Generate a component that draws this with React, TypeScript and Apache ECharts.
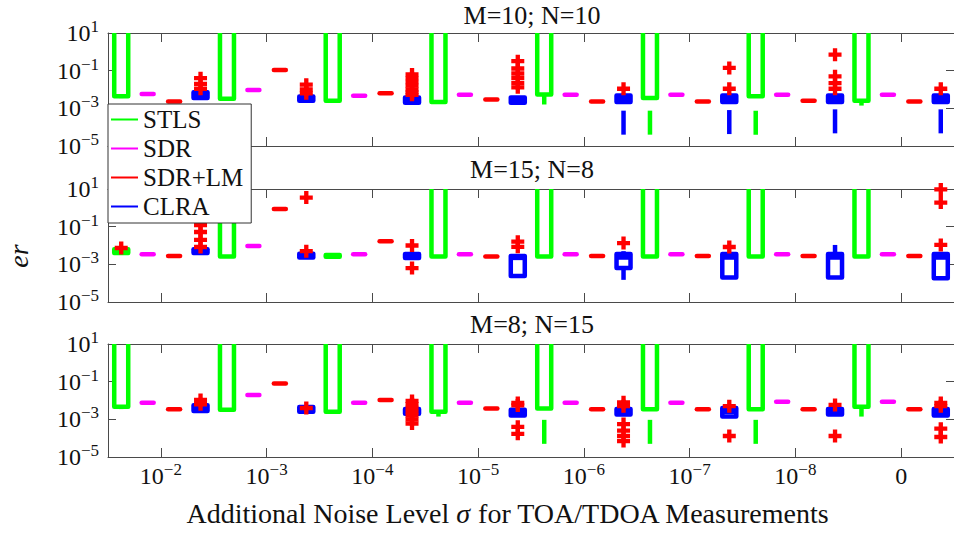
import React, { useEffect, useRef } from 'react';
import * as echarts from 'echarts';

const FONT = 'Liberation Serif, DejaVu Serif, serif';

const methods = ['STLS', 'SDR', 'SDR+LM', 'CLRA'];
const methodColors = ['#00ff00', '#ff00ff', '#ff0000', '#0000ff'];
const panelTitles = ['M=10; N=10', 'M=15; N=8', 'M=8; N=15'];
// noise levels: 10^-2 ... 10^-8, then 0
const noiseExponents: (number | null)[] = [-2, -3, -4, -5, -6, -7, -8, null];

// ---- Panel 1 : M=10; N=10  ([min, Q1, median, Q3, max] per noise level)
const p1Stls = [
  [3.5e-3, 4.4e-3, 50, 500, 5000],
  [3.2e-3, 3.2e-3, 50, 500, 5000],
  [2.5e-3, 2.5e-3, 50, 500, 5000],
  [2.0e-3, 2.2e-3, 50, 500, 5000],
  [1.6e-3, 5.4e-3, 50, 500, 5000],
  [4.0e-5, 3.5e-3, 50, 500, 5000],
  [4.0e-5, 4.4e-3, 50, 500, 5000],
  [1.4e-3, 2.5e-3, 50, 500, 5000],
];
const p1Sdr = [5.8e-3, 9.3e-3, 4.7e-3, 5.2e-3, 5.2e-3, 5.2e-3, 5.2e-3, 5.2e-3];
const p1SdrLm = [2.3e-3, 0.11, 6.3e-3, 2.9e-3, 2.3e-3, 2.3e-3, 2.5e-3, 2.3e-3];
const p1Clra = [
  [3.2e-3, 3.5e-3, 5.0e-3, 7.1e-3, 8.0e-3],
  [2.2e-3, 2.5e-3, 3.2e-3, 4.2e-3, 5.0e-3],
  [1.8e-3, 2.0e-3, 2.8e-3, 3.8e-3, 4.5e-3],
  [1.8e-3, 2.0e-3, 2.6e-3, 3.8e-3, 4.5e-3],
  [4.0e-5, 2.2e-3, 3.2e-3, 4.8e-3, 6.0e-3],
  [4.3e-5, 2.2e-3, 3.2e-3, 4.8e-3, 6.0e-3],
  [4.7e-5, 2.2e-3, 3.2e-3, 4.8e-3, 6.0e-3],
  [4.7e-5, 2.2e-3, 3.2e-3, 4.8e-3, 6.0e-3],
];
const p1StlsOut: number[][] = [[], [], [], [], [], [], [], []];
const p1ClraOut = [
  [0.04, 0.02, 0.011],
  [0.018, 0.01, 6.3e-3],
  [0.063, 0.04, 0.025, 0.016, 0.01, 7e-3, 5.2e-3],
  [0.32, 0.13, 0.071, 0.04, 0.022, 0.013],
  [0.011],
  [0.14, 0.011],
  [0.71, 0.05, 0.022, 0.011],
  [0.011],
];

// ---- Panel 2 : M=15; N=8
const p2Stls = [
  [3.8e-3, 4.0e-3, 5.0e-3, 6.3e-3, 6.3e-3],
  [2.6e-3, 2.6e-3, 50, 500, 5000],
  [2.5e-3, 2.5e-3, 2.8e-3, 3.1e-3, 3.1e-3],
  [2.6e-3, 2.6e-3, 50, 500, 5000],
  [2.6e-3, 2.6e-3, 50, 500, 5000],
  [2.6e-3, 2.6e-3, 50, 500, 5000],
  [2.6e-3, 2.6e-3, 50, 500, 5000],
  [2.6e-3, 2.6e-3, 50, 500, 5000],
];
const p2Sdr = [3.4e-3, 9.3e-3, 3.4e-3, 3.4e-3, 3.4e-3, 3.4e-3, 3.4e-3, 3.4e-3];
const p2SdrLm = [2.75e-3, 0.87, 0.017, 2.6e-3, 2.8e-3, 2.75e-3, 2.75e-3, 2.75e-3];
const p2Clra = [
  [3.6e-3, 4.0e-3, 5.0e-3, 6.3e-3, 7.0e-3],
  [2.1e-3, 2.3e-3, 2.9e-3, 3.7e-3, 4.0e-3],
  [2.0e-3, 2.2e-3, 2.8e-3, 3.5e-3, 3.8e-3],
  [2.3e-4, 2.4e-4, 2.2e-3, 2.75e-3, 2.9e-3],
  [1.5e-4, 6.3e-4, 2.3e-3, 3.5e-3, 5.0e-3],
  [2.0e-4, 2.0e-4, 2.3e-3, 3.5e-3, 3.6e-3],
  [2.0e-4, 2.0e-4, 2.3e-3, 3.5e-3, 1.07e-2],
  [1.8e-4, 1.8e-4, 2.3e-3, 3.5e-3, 3.6e-3],
];
const p2StlsOut = [[7.4e-3], [], [], [], [], [], [], []];
const p2ClraOut = [
  [0.12, 0.052, 0.02, 8.3e-3],
  [3.5, 5.0e-3],
  [0.01, 6.3e-4],
  [0.016, 8.5e-3],
  [0.0135],
  [8.3e-3],
  [],
  [9.5, 1.9, 0.0107],
];

// ---- Panel 3 : M=8; N=15
const p3Stls = [
  [3.5e-3, 4.7e-3, 50, 500, 5000],
  [3.2e-3, 3.2e-3, 50, 500, 5000],
  [2.5e-3, 2.5e-3, 50, 500, 5000],
  [1.4e-3, 2.5e-3, 50, 500, 5000],
  [5.0e-5, 3.8e-3, 50, 500, 5000],
  [5.0e-5, 3.4e-3, 50, 500, 5000],
  [5.0e-5, 3.4e-3, 50, 500, 5000],
  [1.4e-3, 4.7e-3, 50, 500, 5000],
];
const p3Sdr = [7.6e-3, 0.0195, 7.6e-3, 7.6e-3, 7.6e-3, 7.6e-3, 8.7e-3, 8.7e-3];
const p3SdrLm = [3.4e-3, 0.081, 0.0107, 3.8e-3, 3.4e-3, 3.4e-3, 3.4e-3, 3.4e-3];
const p3Clra = [
  [2.6e-3, 2.8e-3, 4.0e-3, 5.6e-3, 6.0e-3],
  [2.3e-3, 2.5e-3, 3.4e-3, 4.5e-3, 4.8e-3],
  [1.8e-3, 2.0e-3, 2.8e-3, 3.5e-3, 3.8e-3],
  [1.5e-3, 1.6e-3, 2.2e-3, 3.2e-3, 3.4e-3],
  [1.6e-3, 1.8e-3, 2.5e-3, 3.5e-3, 3.8e-3],
  [1.3e-3, 1.4e-3, 2.5e-3, 4.0e-3, 4.2e-3],
  [1.6e-3, 1.8e-3, 2.5e-3, 3.5e-3, 3.8e-3],
  [1.5e-3, 1.6e-3, 2.5e-3, 3.5e-3, 3.8e-3],
];
const p3StlsOut: number[][] = [[], [], [], [], [], [], [], []];
const p3ClraOut = [
  [0.0107, 6.3e-3],
  [4.0e-3],
  [9.5e-3, 6.3e-3, 4.0e-3, 2.5e-3, 1.6e-3, 1.0e-3, 6.0e-4],
  [7.4e-3, 5.5e-3, 4.0e-4, 1.7e-4],
  [8.0e-3, 5.0e-3, 5.6e-4, 2.5e-4, 1.3e-4, 7.0e-5],
  [5.0e-3, 1.3e-4],
  [5.8e-3, 1.3e-4],
  [7.4e-3, 5.0e-3, 3.2e-4, 1.15e-4],
];

const gridTops = [33, 189, 344];
const GRID_LEFT = 108;
const GRID_WIDTH = 848;
const GRID_HEIGHT = 113;

const PLUS = 'path://M4,0L8,0L8,4L12,4L12,8L8,8L8,12L4,12L4,8L0,8L0,4L4,4Z';
const AXIS_COLOR = '#4a4a4a';
const TEXT_COLOR = '#111111';
const LW = 4.5;
const HALF_W = 7;

const xTickPos = noiseExponents.map((_, g) => 4 * g + 2.5);

const supRich = {
  b: { fontFamily: FONT, fontSize: 24, lineHeight: 24, verticalAlign: 'bottom', color: TEXT_COLOR },
  s: { fontFamily: FONT, fontSize: 17, lineHeight: 17, padding: [0, 0, 10, 0], verticalAlign: 'bottom', color: TEXT_COLOR },
  z: { fontFamily: FONT, fontSize: 24, lineHeight: 24, padding: [3, 0, 0, 0], verticalAlign: 'bottom', color: TEXT_COLOR },
};

const expStr = (e: number) => (e < 0 ? '\u2212' + Math.abs(e) : String(e));

function makeRenderer(color: string) {
  return (params: any, api: any) => {
    const x = api.value(0);
    const v = [1, 2, 3, 4, 5].map((i) => api.value(i));
    const px = v.map((val) => api.coord([x, val]));
    const cx = px[0][0];
    const [mn, q1, md, q3, mx] = px.map((p: number[]) => p[1]);
    const st = { stroke: color, lineWidth: LW, fill: 'none' };
    const children: any[] = [];
    if (mn - q1 > 0.5) {
      children.push({ type: 'line', shape: { x1: cx, y1: mn, x2: cx, y2: q1 }, style: { ...st, lineDash: [24, 14] } });
    }
    if (q3 - mx > 0.5) {
      children.push({ type: 'line', shape: { x1: cx, y1: mx, x2: cx, y2: q3 }, style: { ...st, lineDash: [24, 14] } });
    }
    if (q1 - q3 > 1) {
      children.push({
        type: 'rect',
        shape: { x: cx - HALF_W, y: q3, width: 2 * HALF_W, height: q1 - q3 },
        style: { ...st, lineJoin: 'round' },
      });
      children.push({
        type: 'line',
        shape: { x1: cx - HALF_W, y1: md, x2: cx + HALF_W, y2: md },
        style: { ...st },
      });
    } else {
      const yy = (q1 + q3) / 2;
      children.push({
        type: 'line',
        shape: { x1: cx - HALF_W + 1, y1: yy, x2: cx + HALF_W - 1, y2: yy },
        style: { ...st, lineCap: 'round' },
      });
    }
    return { type: 'group', children };
  };
}

export default function App() {
  const ref = useRef<HTMLDivElement>(null);

  useEffect(() => {
    if (!ref.current) return;
    const chart = echarts.init(ref.current, null, { renderer: 'svg' });

    const panels = [
      { boxes: [p1Stls, p1Sdr, p1SdrLm, p1Clra], outs: [p1StlsOut, p1ClraOut] },
      { boxes: [p2Stls, p2Sdr, p2SdrLm, p2Clra], outs: [p2StlsOut, p2ClraOut] },
      { boxes: [p3Stls, p3Sdr, p3SdrLm, p3Clra], outs: [p3StlsOut, p3ClraOut] },
    ];

    const grid: any[] = [];
    const xAxis: any[] = [];
    const yAxis: any[] = [];
    const series: any[] = [];

    panels.forEach((panel, p) => {
      grid.push({ left: GRID_LEFT, top: gridTops[p], width: GRID_WIDTH, height: GRID_HEIGHT });
      const isBottom = p === panels.length - 1;
      const xBase = {
        type: 'value',
        gridIndex: p,
        min: 0.5,
        max: 32.5,
        splitLine: { show: false },
        axisLine: { show: true, onZero: false, lineStyle: { color: AXIS_COLOR, width: 1 } },
        axisTick: { show: true, inside: true, length: 9, customValues: xTickPos, lineStyle: { color: AXIS_COLOR, width: 1 } },
      };
      xAxis.push({
        ...xBase,
        position: 'bottom',
        axisLabel: {
          show: isBottom,
          customValues: xTickPos,
          margin: 7,
          rich: supRich,
          formatter: (val: number) => {
            const g = Math.round((val - 2.5) / 4);
            const e = noiseExponents[g];
            return e === null || e === undefined ? '{z|0}' : '{b|10}{s|' + expStr(e) + '}';
          },
        },
      });
      xAxis.push({ ...xBase, position: 'top', axisLabel: { show: false } });

      const yBase = {
        type: 'log',
        logBase: 10,
        gridIndex: p,
        min: 1e-5,
        max: 10,
        interval: 2,
        splitLine: { show: false },
        minorTick: { show: false },
        axisLine: { show: true, onZero: false, lineStyle: { color: AXIS_COLOR, width: 1 } },
        axisTick: { show: true, inside: true, length: 8, lineStyle: { color: AXIS_COLOR, width: 1 } },
      };
      yAxis.push({
        ...yBase,
        position: 'left',
        axisLabel: {
          show: true,
          margin: 9,
          rich: supRich,
          formatter: (val: number) => '{b|10}{s|' + expStr(Math.round(Math.log10(val))) + '}',
        },
      });
      yAxis.push({ ...yBase, position: 'right', axisLabel: { show: false } });

      panel.boxes.forEach((arr: any[], m: number) => {
        const data = arr.map((item: any, g: number) => {
          const five = Array.isArray(item) ? item : [item, item, item, item, item];
          return [4 * g + m + 1, ...five];
        });
        series.push({
          type: 'custom',
          name: methods[m],
          xAxisIndex: 2 * p,
          yAxisIndex: 2 * p,
          clip: true,
          z: 2,
          itemStyle: { color: methodColors[m] },
          encode: { x: 0, y: [1, 2, 3, 4, 5] },
          renderItem: makeRenderer(methodColors[m]),
          data,
          silent: true,
        });
      });

      const outData: number[][] = [];
      const [stlsOut, clraOut] = panel.outs;
      stlsOut.forEach((vals, g) => vals.forEach((v) => outData.push([4 * g + 1, v])));
      clraOut.forEach((vals, g) => vals.forEach((v) => outData.push([4 * g + 4, v])));
      series.push({
        type: 'scatter',
        name: 'outliers',
        xAxisIndex: 2 * p,
        yAxisIndex: 2 * p,
        symbol: PLUS,
        symbolSize: 13,
        z: 3,
        silent: true,
        itemStyle: { color: '#ff0000', opacity: 1 },
        data: outData,
      });
    });

    const titleY = [15, 169, 324];
    const graphic: any[] = panelTitles.map((t, i) => ({
      type: 'text',
      x: 532,
      y: titleY[i],
      z: 50,
      style: {
        text: t,
        fontFamily: FONT,
        fontSize: 26,
        fill: TEXT_COLOR,
        align: 'center',
        verticalAlign: 'middle',
      },
    }));
    graphic.push({
      type: 'text',
      x: 508,
      y: 513,
      z: 50,
      style: {
        text: 'Additional Noise Level {i|\u03c3} for TOA/TDOA Measurements',
        fontFamily: FONT,
        fontSize: 28,
        fill: TEXT_COLOR,
        align: 'center',
        verticalAlign: 'middle',
        rich: { i: { fontFamily: FONT, fontSize: 28, fontStyle: 'italic', fill: TEXT_COLOR } },
      },
    });
    graphic.push({
      type: 'text',
      x: 18,
      y: 256,
      rotation: Math.PI / 2,
      z: 50,
      style: {
        text: 'er',
        fontFamily: FONT,
        fontSize: 28,
        fontStyle: 'italic',
        fill: TEXT_COLOR,
        align: 'center',
        verticalAlign: 'middle',
      },
    });

    chart.setOption({
      animation: false,
      backgroundColor: '#ffffff',
      textStyle: { fontFamily: FONT },
      grid,
      xAxis,
      yAxis,
      series,
      graphic,
      legend: {
        orient: 'vertical',
        left: 108,
        top: 104,
        z: 20,
        selectedMode: false,
        itemWidth: 27,
        itemHeight: 2,
        itemGap: 4,
        padding: [3, 8, 4, 3],
        backgroundColor: '#ffffff',
        borderColor: '#333333',
        borderWidth: 1,
        borderRadius: 0,
        textStyle: { fontFamily: FONT, fontSize: 25, lineHeight: 25, color: TEXT_COLOR },
        data: methods.map((name, i) => ({ name, icon: 'rect', itemStyle: { color: methodColors[i] } })),
      },
    });

    return () => chart.dispose();
  }, []);

  return (
    <div
      ref={ref}
      style={{ position: 'fixed', left: 0, top: 0, width: 954, height: 535, background: '#fff' }}
    />
  );
}
